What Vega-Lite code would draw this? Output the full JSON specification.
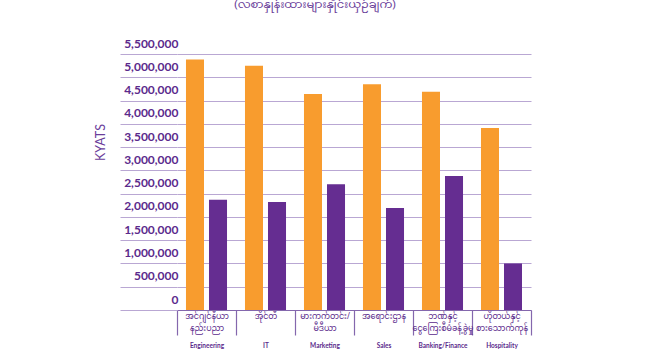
{
  "$schema": "https://vega.github.io/schema/vega-lite/v6.json",
  "width": 354,
  "height": 256,
  "autosize": {"type": "none"},
  "padding": {"left": 177, "top": 54, "right": 132, "bottom": 44},
  "background": "white",
  "title": {
    "text": "(လစာနှုန်းထားများနှိုင်းယှဉ်ချက်)",
    "frame": "group",
    "anchor": "middle",
    "dx": -39,
    "offset": 18,
    "baseline": "alphabetic",
    "fontSize": 11.5,
    "fontWeight": "normal",
    "color": "#6a3d9a",
    "font": "Noto Sans Myanmar, Padauk, Myanmar Text, Noto Sans, sans-serif"
  },
  "data": {
    "values": [
      {"cat": "Engineering", "series": "Group 1", "value": 5380000},
      {"cat": "Engineering", "series": "Group 2", "value": 2370000},
      {"cat": "IT", "series": "Group 1", "value": 5250000},
      {"cat": "IT", "series": "Group 2", "value": 2320000},
      {"cat": "Marketing", "series": "Group 1", "value": 4640000},
      {"cat": "Marketing", "series": "Group 2", "value": 2700000},
      {"cat": "Sales", "series": "Group 1", "value": 4850000},
      {"cat": "Sales", "series": "Group 2", "value": 2190000},
      {"cat": "Banking/Finance", "series": "Group 1", "value": 4690000},
      {"cat": "Banking/Finance", "series": "Group 2", "value": 2880000},
      {"cat": "Hospitality", "series": "Group 1", "value": 3910000},
      {"cat": "Hospitality", "series": "Group 2", "value": 1000000}
    ]
  },
  "config": {"view": {"stroke": null}},
  "layer": [
    {
      "mark": {"type": "bar"},
      "encoding": {
        "x": {
          "field": "cat",
          "type": "nominal",
          "sort": ["Engineering", "IT", "Marketing", "Sales", "Banking/Finance", "Hospitality"],
          "scale": {"paddingInner": 0, "paddingOuter": 0},
          "axis": {
            "title": null,
            "domain": true,
            "domainColor": "#8467ad",
            "domainWidth": 1.2,
            "ticks": true,
            "tickBand": "extent",
            "tickSize": 25,
            "tickColor": "#8467ad",
            "tickWidth": 1.2,
            "labelAngle": 0,
            "labelPadding": -23,
            "labelBaseline": "top",
            "labelFont": "Noto Sans Myanmar, Padauk, Noto Sans, sans-serif",
            "labelFontSize": 8,
            "labelLineHeight": 12.5,
            "labelColor": "#5b2a8c",
            "labelExpr": "{'Engineering': ['အင်ဂျင်နီယာ', 'နည်းပညာ'], 'IT': ['အိုင်တီ'], 'Marketing': ['မားကက်တင်း/', 'မီဒီယာ'], 'Sales': ['အရောင်းဌာန'], 'Banking/Finance': ['ဘဏ်နှင့်', 'ငွေကြေးစီမံခန့်ခွဲမှု'], 'Hospitality': ['ဟိုတယ်နှင့်', 'စားသောက်ကုန်']}[datum.value]"
          }
        },
        "xOffset": {
          "field": "series",
          "type": "nominal",
          "scale": {"paddingInner": 0.217, "paddingOuter": 0.39}
        },
        "y": {
          "field": "value",
          "type": "quantitative",
          "scale": {"domain": [0, 5500000], "nice": false},
          "axis": {
            "values": [0, 500000, 1000000, 1500000, 2000000, 2500000, 3000000, 3500000, 4000000, 4500000, 5000000, 5500000],
            "format": ",d",
            "grid": true,
            "gridColor": "#b9a7d3",
            "gridWidth": 1.2,
            "domain": false,
            "ticks": true,
            "tickSize": 57,
            "tickColor": "#b9a7d3",
            "tickWidth": 1.2,
            "labelPadding": -58,
            "labelBaseline": "alphabetic",
            "labelOffset": -7,
            "labelFont": "Lato",
            "labelFontWeight": "bold",
            "labelFontSize": 12,
            "labelColor": "#5b2a8c",
            "title": "KYATS",
            "titleFont": "Lato",
            "titleFontSize": 12.5,
            "titleFontWeight": "normal",
            "titleColor": "#6a3d9a",
            "titleAngle": -90,
            "titleX": -77,
            "titleY": 88,
            "titleAlign": "center",
            "titleBaseline": "middle"
          }
        },
        "color": {
          "field": "series",
          "type": "nominal",
          "scale": {"domain": ["Group 1", "Group 2"], "range": ["#f89c2e", "#652d91"]},
          "legend": null
        }
      }
    },
    {
      "mark": {"type": "text", "text": ""},
      "encoding": {
        "x": {
          "field": "cat",
          "type": "nominal",
          "sort": ["Engineering", "IT", "Marketing", "Sales", "Banking/Finance", "Hospitality"],
          "scale": {"paddingInner": 0, "paddingOuter": 0},
          "axis": {
            "orient": "bottom",
            "offset": 30,
            "title": null,
            "domain": false,
            "ticks": false,
            "labelPadding": 2,
            "labelAngle": 0,
            "labelBaseline": "top",
            "labelFont": "Lato",
            "labelFontWeight": "bold",
            "labelFontSize": 6.5,
            "labelColor": "#5b2a8c"
          }
        }
      }
    }
  ],
  "resolve": {"scale": {"x": "independent"}, "axis": {"x": "independent"}}
}
